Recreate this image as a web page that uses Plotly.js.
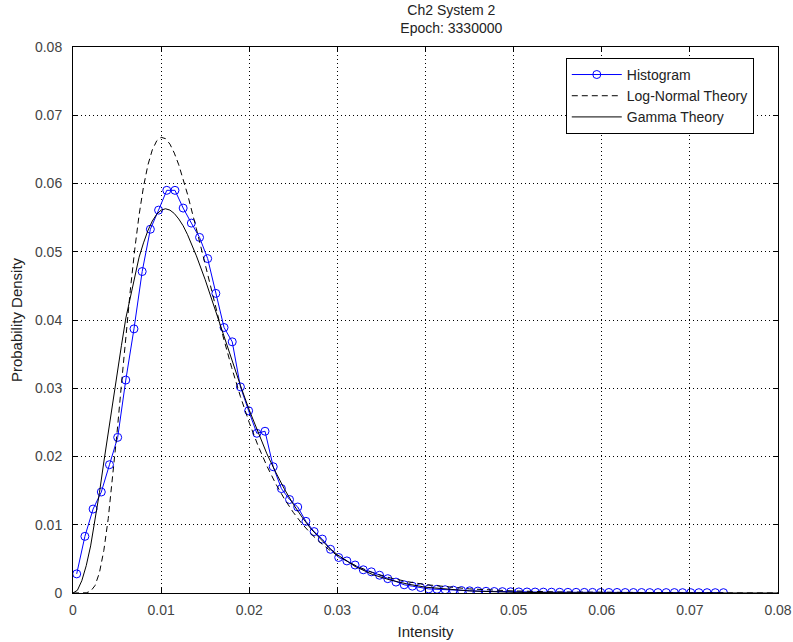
<!DOCTYPE html>
<html>
<head>
<meta charset="utf-8">
<script src="https://cdn.plot.ly/plotly-3.0.1.min.js"></script>
<style>
  html, body { margin: 0; padding: 0; background: #ffffff; }
  #chart { width: 793px; height: 642px; }
</style>
</head>
<body>
<div id="chart"></div>
<script>
// ---- Histogram (bin centres and probability per bin) ----
const histX = [
  0.00042, 0.00135, 0.00228, 0.00321, 0.00414, 0.00507, 0.00599, 0.00692, 0.00785, 0.00878,
  0.00971, 0.01064, 0.01157, 0.01250, 0.01343, 0.01436, 0.01528, 0.01621, 0.01714, 0.01807,
  0.01900, 0.01993, 0.02086, 0.02179, 0.02272, 0.02365, 0.02457, 0.02550, 0.02643, 0.02736,
  0.02829, 0.02922, 0.03015, 0.03108, 0.03201, 0.03294, 0.03386, 0.03479, 0.03572, 0.03665,
  0.03758, 0.03851, 0.03944, 0.04037, 0.04130, 0.04223, 0.04315, 0.04408, 0.04501, 0.04594,
  0.04687, 0.04780, 0.04873, 0.04966, 0.05059, 0.05152, 0.05244, 0.05337, 0.05430, 0.05523,
  0.05616, 0.05709, 0.05802, 0.05895, 0.05988, 0.06081, 0.06173, 0.06266, 0.06359, 0.06452,
  0.06545, 0.06638, 0.06731, 0.06824, 0.06917, 0.07010, 0.07102, 0.07195, 0.07288, 0.07381
];
const histY = [
  0.0028, 0.0083, 0.0123, 0.0148, 0.0188, 0.0228, 0.0312, 0.0387, 0.0471, 0.0533,
  0.0561, 0.0590, 0.0590, 0.0564, 0.0542, 0.0521, 0.0490, 0.0439, 0.0389, 0.0368,
  0.0302, 0.0267, 0.0234, 0.0237, 0.0185, 0.0153, 0.0137, 0.0126, 0.0105, 0.0090,
  0.0079, 0.0064, 0.0052, 0.0047, 0.0041, 0.0034, 0.0031, 0.0026, 0.0021, 0.0016,
  0.0012, 0.0010, 0.0008, 0.0006, 0.00055, 0.00048, 0.00042, 0.00036, 0.00032, 0.00028,
  0.00025, 0.00022, 0.00020, 0.00018, 0.00016, 0.00015, 0.00014, 0.00013, 0.00012, 0.00011,
  0.00010, 0.00010, 0.00009, 0.00009, 0.00008, 0.00008, 0.00008, 0.00007, 0.00007, 0.00007,
  0.00006, 0.00006, 0.00006, 0.00006, 0.00005, 0.00005, 0.00005, 0.00005, 0.00005, 0.00005
];

// ---- Log-normal theory curve ----
const lognX = [
  0, 0.001, 0.0015, 0.002, 0.0025, 0.003, 0.0035, 0.004, 0.0045, 0.005,
  0.0055, 0.006, 0.0065, 0.007, 0.0075, 0.008, 0.0085, 0.009, 0.0095, 0.010,
  0.0105, 0.011, 0.0115, 0.012, 0.0125, 0.013, 0.014, 0.015, 0.016, 0.017,
  0.018, 0.019, 0.020, 0.021, 0.022, 0.023, 0.024, 0.025, 0.026, 0.027,
  0.028, 0.029, 0.030, 0.032, 0.034, 0.036, 0.038, 0.040, 0.045, 0.050,
  0.055, 0.060, 0.065, 0.070, 0.080
];
const lognY = [
  0, 0, 0.00003, 0.00026, 0.00109, 0.00298, 0.00624, 0.01092, 0.01681, 0.02352,
  0.03062, 0.03766, 0.04431, 0.05028, 0.05539, 0.05954, 0.06271, 0.06493, 0.06625, 0.06677,
  0.06657, 0.06577, 0.06445, 0.06274, 0.06070, 0.05841, 0.05336, 0.04803, 0.04278, 0.03773,
  0.03305, 0.02878, 0.02496, 0.02158, 0.01861, 0.01602, 0.01376, 0.01181, 0.01013, 0.00869,
  0.00745, 0.00640, 0.00549, 0.00404, 0.00298, 0.00221, 0.00165, 0.00123, 0.00060, 0.00030,
  0.00016, 0.00008, 0.00004, 0.00002, 0.00001
];

// ---- Gamma theory curve ----
const gammaX = [
  0, 0.0005, 0.001, 0.0015, 0.002, 0.0025, 0.003, 0.0035, 0.004, 0.0045,
  0.005, 0.0055, 0.006, 0.0065, 0.007, 0.0075, 0.008, 0.0085, 0.009, 0.0095,
  0.010, 0.0105, 0.011, 0.0115, 0.012, 0.0125, 0.013, 0.014, 0.015, 0.016,
  0.017, 0.018, 0.019, 0.020, 0.021, 0.022, 0.023, 0.024, 0.025, 0.026,
  0.027, 0.028, 0.029, 0.030, 0.032, 0.034, 0.036, 0.038, 0.040, 0.045,
  0.050, 0.055, 0.060, 0.070, 0.080
];
const gammaY = [
  0, 0.0004, 0.0018, 0.0040, 0.0069, 0.0106, 0.0147, 0.0192, 0.0236, 0.0280,
  0.0322, 0.0363, 0.0403, 0.0432, 0.0464, 0.0492, 0.0513, 0.0531, 0.0545, 0.0555,
  0.0561, 0.0563, 0.0561, 0.0556, 0.0548, 0.0538, 0.0525, 0.0494, 0.0459, 0.0420,
  0.0381, 0.0342, 0.0304, 0.0268, 0.0235, 0.0204, 0.0177, 0.0152, 0.0130, 0.0111,
  0.0094, 0.0080, 0.0067, 0.0056, 0.0039, 0.0027, 0.0019, 0.0013, 0.00085, 0.0003,
  0.0001, 0.00004, 0.00001, 0, 0
];

// ---- Axis ticks ----
const tickVals = [0, 0.01, 0.02, 0.03, 0.04, 0.05, 0.06, 0.07, 0.08];
const tickText = ['0', '0.01', '0.02', '0.03', '0.04', '0.05', '0.06', '0.07', '0.08'];

const FONT = 'Liberation Sans, Arial, Helvetica, sans-serif';

const traces = [
  {
    x: histX, y: histY, name: 'Histogram', type: 'scatter', mode: 'lines+markers',
    line: { color: '#0000ff', width: 1 },
    marker: { symbol: 'circle-open', size: 8, color: '#0000ff', line: { width: 1, color: '#0000ff' } }
  },
  {
    x: lognX, y: lognY, name: 'Log-Normal Theory', type: 'scatter', mode: 'lines',
    line: { color: '#000000', width: 1, dash: '6px,4px' }
  },
  {
    x: gammaX, y: gammaY, name: 'Gamma Theory', type: 'scatter', mode: 'lines',
    line: { color: '#000000', width: 1 }
  }
];

const axisCommon = {
  tickmode: 'array', tickvals: tickVals, ticktext: tickText,
  range: [0, 0.08], autorange: false,
  showline: true, linecolor: '#000000', linewidth: 1, mirror: 'ticks',
  ticks: 'inside', ticklen: 5, tickcolor: '#000000', tickwidth: 1,
  showgrid: true, gridcolor: '#000000', griddash: '1px,3px', gridwidth: 1,
  zeroline: false,
  tickfont: { family: FONT, size: 14, color: '#444444' },
  automargin: false
};

const layout = {
  width: 793, height: 642,
  paper_bgcolor: '#ffffff', plot_bgcolor: '#ffffff',
  margin: { l: 73, r: 15, t: 47, b: 49, pad: 0 },
  font: { family: FONT, size: 14, color: '#000000' },
  title: {
    text: 'Ch2 System 2<br>Epoch: 3330000',
    font: { family: FONT, size: 14, color: '#222222' },
    x: 0.5366, xanchor: 'center', xref: 'paper',
    y: 0.977, yanchor: 'top', yref: 'container'
  },
  xaxis: Object.assign({}, axisCommon, {
    title: { text: 'Intensity', font: { family: FONT, size: 15, color: '#222222' }, standoff: 9 },
    ticklabelstandoff: 4
  }),
  yaxis: Object.assign({}, axisCommon, {
    title: { text: 'Probability Density', font: { family: FONT, size: 15, color: '#222222' }, standoff: 8 },
    ticklabelstandoff: 7
  }),
  showlegend: true,
  legend: {
    x: 0.699, y: 0.98, xanchor: 'left', yanchor: 'top',
    bgcolor: '#ffffff', bordercolor: '#000000', borderwidth: 1,
    font: { family: FONT, size: 14, color: '#222222' },
    tracegroupgap: 0, itemwidth: 50,
    traceorder: 'normal'
  }
};

Plotly.newPlot('chart', traces, layout, { displayModeBar: false, staticPlot: true });
</script>
</body>
</html>
